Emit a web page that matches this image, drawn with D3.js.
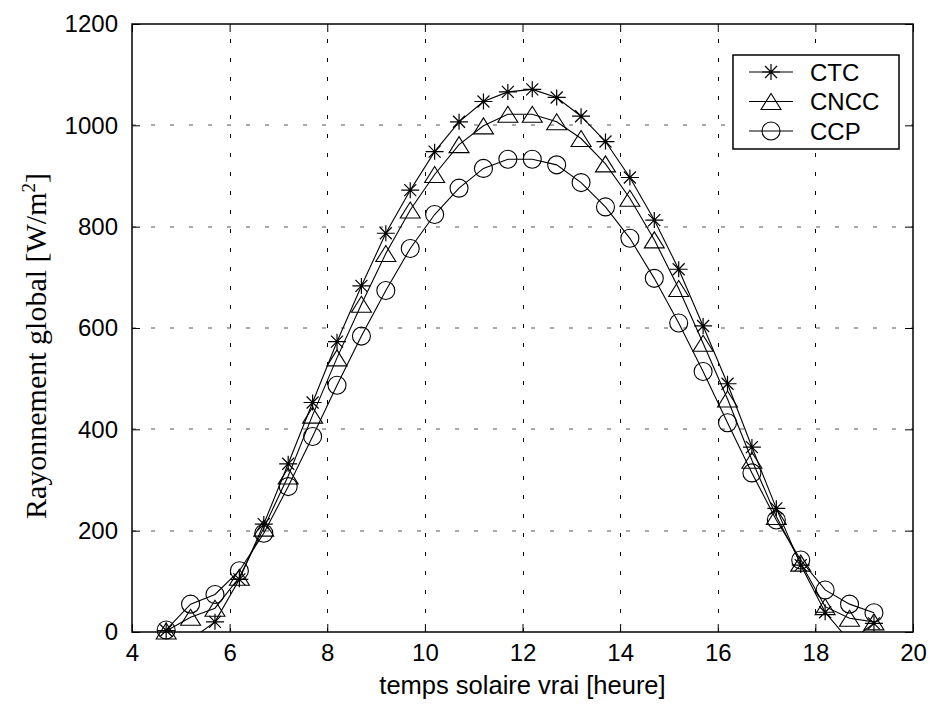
<!DOCTYPE html>
<html><head><meta charset="utf-8">
<script src="https://cdn.jsdelivr.net/npm/d3@7"></script>
<style>body{margin:0;background:#fff}svg{display:block}</style>
</head><body>
<svg id="c" width="930" height="704"></svg>
<script>
const hours = [4.7,5.2,5.7,6.2,6.7,7.2,7.7,8.2,8.7,9.2,9.7,10.2,10.7,11.2,11.7,12.2,12.7,13.2,13.7,14.2,14.7,15.2,15.7,16.2,16.7,17.2,17.7,18.2,18.7,19.2];
const ctc  = [3,-15,20,104,213,332,453,573,683,787,872,948,1007,1047,1066,1071,1055,1018,968,897,813,716,604,490,365,244,132,39,-18,17];
const cncc = [2,29,47,108,205,308,428,541,647,747,833,903,962,999,1022,1022,1007,974,924,856,774,678,570,460,339,228,136,50,27,20];
const ccp  = [4,55,74,121,195,287,386,487,584,674,757,824,876,915,933,933,922,887,839,777,698,610,514,413,314,221,142,83,55,38];
const seriesNames = ["CTC","CNCC","CCP"];
const seriesMarkers = ["star","triangle","circle"];
const xTicks = [4,6,8,10,12,14,16,18,20];
const yTicks = [0,200,400,600,800,1000,1200];
const xLabel = "temps solaire vrai [heure]";

const svg = d3.select("#c");
const L = 132, R = 913, T = 24, B = 632;
const x = d3.scaleLinear().domain([4,20]).range([L,R]);
const y = d3.scaleLinear().domain([0,1200]).range([B,T]);

svg.append("defs").append("clipPath").attr("id","clip")
  .append("rect").attr("x",L).attr("y",T).attr("width",R-L).attr("height",B-T);

// grid
const grid = svg.append("g").attr("stroke","#000").attr("stroke-width",1).attr("stroke-dasharray","4,15");
grid.selectAll(".vg").data(xTicks.slice(1,-1)).join("line")
  .attr("x1",d=>Math.round(x(d))+0.5).attr("x2",d=>Math.round(x(d))+0.5).attr("y1",B).attr("y2",T);
grid.selectAll(".hg").data(yTicks.slice(1,-1)).join("line")
  .attr("y1",d=>Math.round(y(d))).attr("y2",d=>Math.round(y(d))).attr("x1",L).attr("x2",R)
  .attr("stroke","#555");

// axes via d3
const fontTick = "Arial, 'Liberation Sans', Helvetica, sans-serif";
const xAxisB = svg.append("g").attr("transform",`translate(0,${B})`)
  .call(d3.axisBottom(x).tickValues(xTicks).tickSize(-8).tickPadding(12).tickFormat(d3.format("d")));
const xAxisT = svg.append("g").attr("transform",`translate(0,${T})`)
  .call(d3.axisTop(x).tickValues(xTicks).tickSize(-8).tickFormat(""));
const yAxisL = svg.append("g").attr("transform",`translate(${L},0)`)
  .call(d3.axisLeft(y).tickValues(yTicks).tickSize(-8).tickPadding(14).tickFormat(d3.format("d")));
const yAxisR = svg.append("g").attr("transform",`translate(${R},0)`)
  .call(d3.axisRight(y).tickValues(yTicks).tickSize(-8).tickFormat(""));
[xAxisB,xAxisT,yAxisL,yAxisR].forEach(g=>{
  g.select(".domain").remove();
  g.selectAll("line").attr("stroke","#000");
  g.selectAll("text").attr("font-family",fontTick).attr("font-size",24).attr("fill","#000");
});
xAxisB.selectAll("text").attr("dy","0.71em");
svg.append("rect").attr("x",L).attr("y",T).attr("width",R-L).attr("height",B-T)
  .attr("fill","none").attr("stroke","#000").attr("stroke-width",1.5);

// markers
function drawMarker(g, type, cx, cy){
  if(type==="star"){
    const p = d3.path();
    p.moveTo(cx,cy-8); p.lineTo(cx,cy+8);
    p.moveTo(cx-9,cy); p.lineTo(cx+9,cy);
    p.moveTo(cx-6,cy-6); p.lineTo(cx+6,cy+6);
    p.moveTo(cx-6,cy+6); p.lineTo(cx+6,cy-6);
    g.append("path").attr("d",p.toString()).attr("stroke","#000").attr("fill","none").attr("stroke-width",1.2);
  } else if(type==="triangle"){
    g.append("path").attr("d",`M${cx},${cy-8}L${cx-10},${cy+8}L${cx+10},${cy+8}Z`)
      .attr("stroke","#000").attr("fill","none").attr("stroke-width",1.1);
  } else {
    g.append("circle").attr("cx",cx).attr("cy",cy).attr("r",9)
      .attr("stroke","#000").attr("fill","none").attr("stroke-width",1.1);
  }
}

const allSeries = [ctc,cncc,ccp];
const line = d3.line().x((d,i)=>x(hours[i])).y(d=>y(d));
allSeries.forEach((vals,si)=>{
  svg.append("path").datum(vals).attr("d",line).attr("clip-path","url(#clip)")
    .attr("fill","none").attr("stroke","#000").attr("stroke-width",1.1);
  const g = svg.append("g");
  vals.forEach((v,i)=>{ if(v>=0 && v<=1200) drawMarker(g, seriesMarkers[si], x(hours[i]), y(v)); });
});

// legend
const lg = svg.append("g");
lg.append("rect").attr("x",733).attr("y",55).attr("width",166).attr("height",94)
  .attr("fill","#fff").attr("stroke","#000").attr("stroke-width",1.5);
seriesNames.forEach((n,i)=>{
  const ly = 72 + i*29.5;
  lg.append("line").attr("x1",749).attr("x2",793).attr("y1",ly).attr("y2",ly).attr("stroke","#000").attr("stroke-width",1.1);
  drawMarker(lg, seriesMarkers[i], 771, ly);
  lg.append("text").attr("x",810).attr("y",ly).attr("dy","0.36em").text(n)
    .attr("font-family",fontTick).attr("font-size",24);
});

// axis labels
svg.append("text").attr("x",(L+R)/2).attr("y",694).attr("text-anchor","middle")
  .attr("font-family",fontTick).attr("font-size",25.5).text(xLabel);
const yl = svg.append("text").attr("transform",`translate(46,346) rotate(-90)`)
  .attr("text-anchor","middle").attr("font-family","'Liberation Serif','Times New Roman',serif").attr("font-size",30);
yl.append("tspan").text("Rayonnement global [W/m");
yl.append("tspan").attr("dy",-11).attr("font-size",19).text("2");
yl.append("tspan").attr("dy",11).text("]");
</script>
</body></html>
